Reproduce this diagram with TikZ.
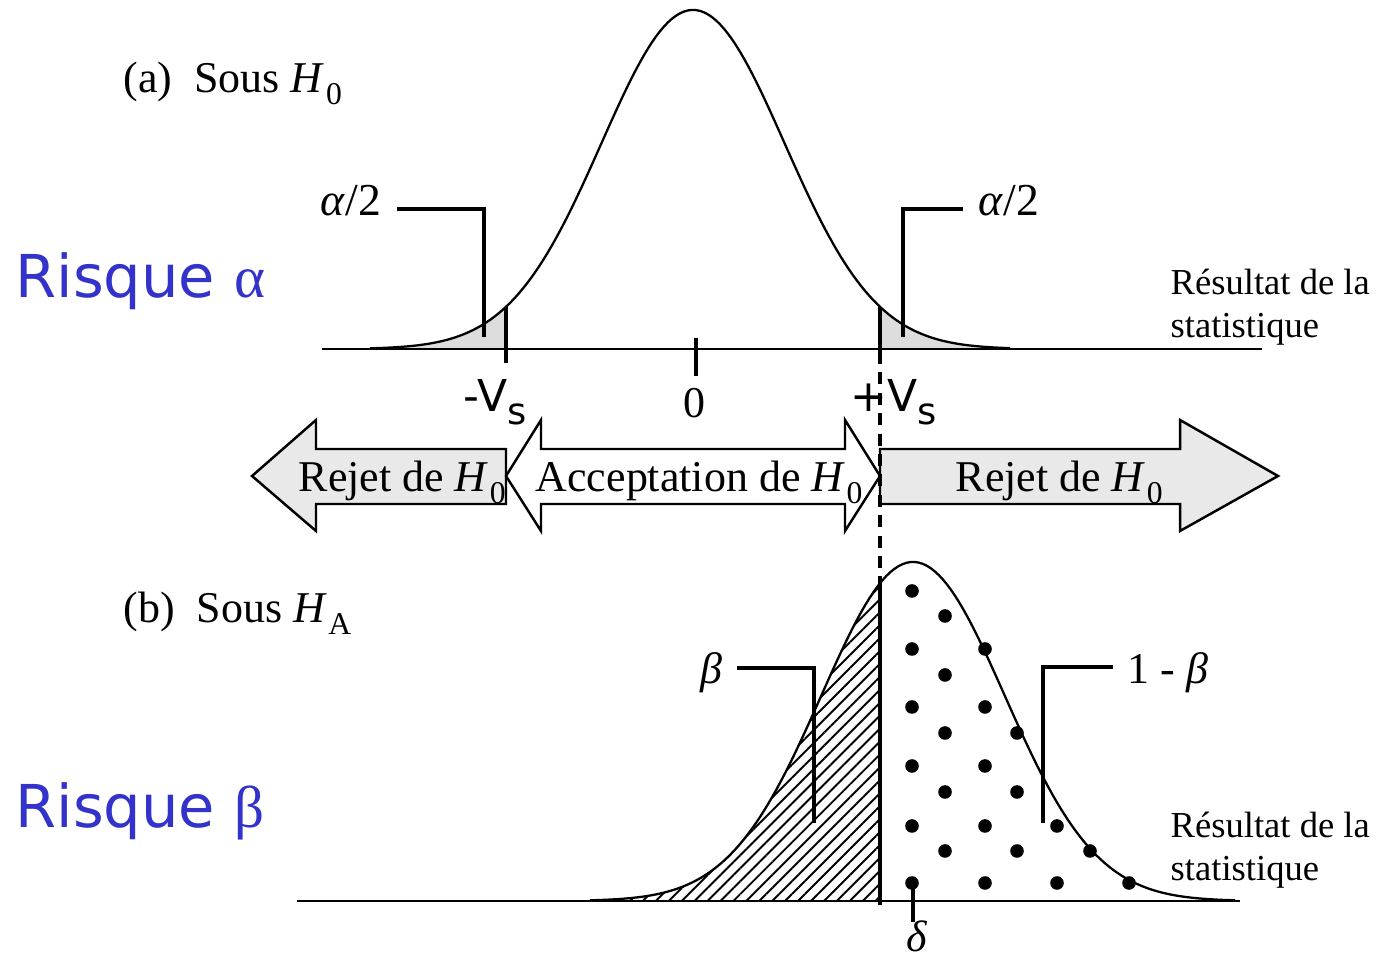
\documentclass[tikz,border=0pt]{standalone}
\usepackage{fontspec}
\setmainfont{Liberation Serif}
\newfontfamily\tahoma{DejaVu Sans}
\usetikzlibrary{patterns.meta}

\definecolor{risqueblue}{RGB}{51,51,204}
\definecolor{tailgray}{RGB}{221,221,221}
\definecolor{rejetgray}{RGB}{233,233,233}

\newcommand{\Hsub}[1]{\textit{H}\kern0.03em\raisebox{-0.55ex}{\fontsize{9}{9}\selectfont #1}}
\newcommand{\Vsub}[1]{{\tahoma #1V\raisebox{-0.5ex}{\fontsize{10.5}{10.5}\selectfont s}}}

\tikzset{
  axisline/.style={line width=0.6pt},
  curveline/.style={line width=0.65pt},
  leader/.style={line width=1.2pt},
  bigarrow/.style={draw, line width=0.7pt},
  txt/.style={inner sep=0pt, font=\fontsize{12.5}{14}\selectfont},
  smalltxt/.style={inner sep=0pt, font=\fontsize{10.4}{12}\selectfont, align=left},
  risque/.style={inner sep=0pt, text=risqueblue, font=\tahoma\fontsize{16.8}{18}\selectfont},
  dot/.style={fill=black}
}

\begin{document}
\begin{tikzpicture}[x=0.01cm, y=-0.01cm,
  declare function={gtop(\x)=349-339*exp(-((\x-693)/91.6)^2/2);
                    gbot(\x)=901-339*exp(-((\x-913)/91.6)^2/2);}]
    \useasboundingbox[fill=white] (0,0) rectangle (1376,962);

    % Side titles
    \node[risque, anchor=base west] (risqueA) at (15,298) {Risque {\rmfamily α}};
    \node[risque, anchor=base west] (risqueB) at (15,828) {Risque {\rmfamily β}};

    % (a) Under H0
    \node[txt, anchor=base west] (titleA) at (123,93) {(a)\ \ Sous \Hsub{0}};
    \fill[tailgray] (370,349) -- plot[domain=370:506, samples=40] (\x,{gtop(\x)}) -- (506,349) -- cycle;
    \fill[tailgray] (880,349) -- plot[domain=880:1010, samples=40] (\x,{gtop(\x)}) -- (1010,349) -- cycle;
    \draw[curveline] plot[domain=370:1010, samples=160] (\x,{gtop(\x)});
    \draw[axisline] (322,349) -- (1262,349);
    \draw[leader] (506,{gtop(506)}) -- (506,363);
    \draw[leader] (696,338) -- (696,376);
    \draw[leader] (880,{gtop(880)}) -- (880,352);
    \node[txt, anchor=base west] (lblVm) at (463,412) {\Vsub{-}};
    \node[txt, anchor=base] (lblZero) at (694,418) {0};
    \node[txt, anchor=base west] (lblVp) at (850,412) {\Vsub{+}};

    % Leaders alpha/2
    \node[txt, anchor=base west, font=\fontsize{13}{14}\selectfont] (alphaL) at (320,216) {\textit{α}/2};
    \draw[leader] (397,209) -- (484,209) -- (484,337);
    \node[txt, anchor=base west, font=\fontsize{13}{14}\selectfont] (alphaR) at (978,216) {\textit{α}/2};
    \draw[leader] (963,209) -- (903,209) -- (903,337);
    \node[smalltxt, anchor=base west] (resA1) at (1170,295) {Résultat de la};
    \node[smalltxt, anchor=base west] (resA2) at (1170,338) {statistique};

    % Decision arrows
    \draw[bigarrow, fill=rejetgray] (506,449) -- (316,449) -- (316,420) -- (252,476) -- (316,531) -- (316,504) -- (506,504) -- cycle;
    \draw[bigarrow, fill=white] (541,449) -- (845,449) -- (845,420) -- (880,476) -- (845,531) -- (845,504)
        -- (541,504) -- (541,531) -- (506,476) -- (541,420) -- cycle;
    \draw[bigarrow, fill=rejetgray] (880,449) -- (1180,449) -- (1180,420) -- (1278,476) -- (1180,531) -- (1180,504) -- (880,504) -- cycle;
    \node[txt, anchor=base west] (rejetL) at (298,492) {Rejet de \Hsub{0}};
    \node[txt, anchor=base west] (accept) at (535,492) {Acceptation de \Hsub{0}};
    \node[txt, anchor=base west] (rejetR) at (955,492) {Rejet de \Hsub{0}};
    \draw[line width=0.9pt, dash pattern=on 3.4pt off 2.4pt] (880,352) -- (880,{gbot(880)});

    % (b) Under HA
    \node[txt, anchor=base west] (titleB) at (123,623) {(b)\ \ Sous \Hsub{A}};
    \fill[pattern={Lines[angle=45, distance=2.6pt, line width=0.55pt]}] (590,901) -- plot[domain=590:880, samples=60] (\x,{gbot(\x)}) -- (880,901) -- cycle;
    \foreach \px/\py in {912/591, 945/616, 912/649, 985/649, 945/675, 912/707, 985/707,
        945/733, 1017/733, 912/766, 985/766, 945/792, 1017/792, 912/826, 985/826, 1057/826,
        945/851, 1017/851, 1090/851, 912/883, 985/883, 1057/883, 1129/883}
      \fill[dot] (\px,\py) circle (6.8);
    \draw[curveline] plot[domain=590:1235, samples=160] (\x,{gbot(\x)});
    \draw[axisline] (297,901) -- (1240,901);
    \draw[leader] (880,{gbot(880)}) -- (880,905);
    \draw[leader] (913,885) -- (913,922);
    \node[txt, anchor=base] (lblDelta) at (917,952) {\textit{δ}};

    % Leaders beta
    \node[txt, anchor=base west] (betaL) at (700,684) {\textit{β}};
    \draw[leader] (737,668) -- (814,668) -- (814,823);
    \node[txt, anchor=base west] (betaR) at (1127,684) {1 - \textit{β}};
    \draw[leader] (1113,667) -- (1043,667) -- (1043,823);
    \node[smalltxt, anchor=base west] (resB1) at (1170,838) {Résultat de la};
    \node[smalltxt, anchor=base west] (resB2) at (1170,881) {statistique};
\end{tikzpicture}
\end{document}
